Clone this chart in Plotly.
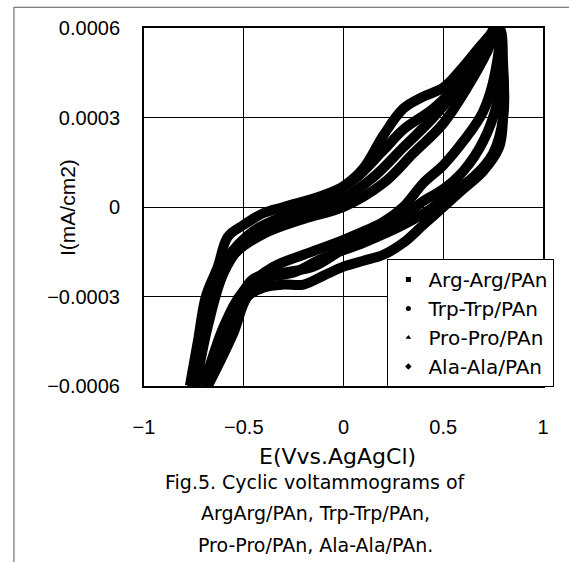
import plotly.graph_objects as go

# E (V vs Ag/AgCl) and I (mA/cm2), one closed CV loop per film
arg_E = [-0.77, -0.73, -0.69, -0.63, -0.58, -0.5, -0.4, -0.3, -0.1, 0.0, 0.1, 0.2, 0.3, 0.4, 0.5, 0.6, 0.7, 0.78,
         0.8, 0.8, 0.78, 0.7, 0.6, 0.5, 0.4, 0.3, 0.2, 0.1, 0.0, -0.1, -0.2, -0.3, -0.4, -0.48, -0.55, -0.62, -0.68]
arg_I = [-0.0006, -0.00045, -0.0003, -0.0002, -0.0001, -0.00006, -0.00002, 0.0, 0.00004, 0.00007, 0.00013, 0.00024, 0.00033, 0.00037, 0.0004, 0.00047, 0.00055, 0.0006,
         0.00048, 0.0003, 0.0002, 0.00012, 0.00006, 0.0, -0.00006, -0.00012, -0.00016, -0.00018, -0.0002, -0.00023, -0.00026, -0.00026, -0.00027, -0.0003, -0.00042, -0.00052, -0.0006]

trp_E = [-0.74, -0.68, -0.6, -0.5, -0.35, -0.2, 0.0, 0.15, 0.3, 0.45, 0.6, 0.72, 0.78,
         0.76, 0.7, 0.6, 0.5, 0.4, 0.3, 0.2, 0.0, -0.2, -0.35, -0.5, -0.6, -0.7]
trp_I = [-0.0006, -0.0004, -0.00022, -0.00012, -0.00006, -0.00002, 0.00003, 0.0001, 0.0002, 0.0003, 0.00042, 0.00055, 0.0006,
         0.00045, 0.00032, 0.00022, 0.00014, 0.00008, 0.0, -0.00005, -0.00011, -0.00016, -0.0002, -0.00028, -0.0004, -0.0006]

pro_E = [-0.75, -0.7, -0.64, -0.55, -0.4, -0.2, 0.0, 0.2, 0.35, 0.5, 0.62, 0.72, 0.77,
         0.79, 0.77, 0.7, 0.6, 0.5, 0.4, 0.3, 0.15, 0.0, -0.15, -0.3, -0.45, -0.55, -0.65, -0.7]
pro_I = [-0.0006, -0.00042, -0.00028, -0.00016, -0.00009, -0.00004, 0.0, 0.00008, 0.00018, 0.00028, 0.0004, 0.00052, 0.0006,
         0.0005, 0.00035, 0.00022, 0.00012, 0.00006, 0.00002, -0.00003, -0.00008, -0.00014, -0.0002, -0.00022, -0.00024, -0.00035, -0.0005, -0.0006]

ala_E = [-0.76, -0.71, -0.66, -0.58, -0.45, -0.3, -0.1, 0.05, 0.2, 0.3, 0.45, 0.6, 0.7, 0.76,
         0.8, 0.8, 0.75, 0.65, 0.5, 0.45, 0.3, 0.1, -0.1, -0.25, -0.4, -0.5, -0.6, -0.69]
ala_I = [-0.0006, -0.00043, -0.0003, -0.00017, -0.00008, -0.00003, 0.00003, 0.00009, 0.00019, 0.00026, 0.00033, 0.00043, 0.00052, 0.0006,
         0.00045, 0.0003, 0.00018, 0.0001, 0.00003, 0.0, -0.00006, -0.00012, -0.00017, -0.00022, -0.00024, -0.00029, -0.00042, -0.0006]

names = ["Arg-Arg/PAn", "Trp-Trp/PAn", "Pro-Pro/PAn", "Ala-Ala/PAn"]
symbols = ["square", "circle", "triangle-up", "diamond"]
series = [(arg_E, arg_I), (trp_E, trp_I), (pro_E, pro_I), (ala_E, ala_I)]

x_ticks = [-1, -0.5, 0, 0.5, 1]
x_tick_text = ["−1", "−0.5", "0", "0.5", "1"]
y_ticks = [-0.0006, -0.0003, 0, 0.0003, 0.0006]
y_tick_text = ["−0.0006", "−0.0003", "0", "0.0003", "0.0006"]

FONT = "Liberation Sans"
WIDE = "DejaVu Sans"

fig = go.Figure()
for (ex, iy), nm, sym in zip(series, names, symbols):
    fig.add_trace(go.Scatter(x=ex, y=iy, mode="lines", line=dict(color="black", width=10, shape="spline"),
                             showlegend=False, hoverinfo="skip"))
    fig.add_trace(go.Scatter(x=ex, y=iy, mode="markers", name=nm,
                             marker=dict(symbol=sym, size=5, color="black")))

fig.update_layout(
    width=569, height=562,
    margin=dict(l=144, r=26, t=28, b=176),
    paper_bgcolor="white", plot_bgcolor="white",
    font=dict(family=FONT, size=20, color="black"),
    legend=dict(x=0.61, y=-0.003, xanchor="left", yanchor="bottom",
                bgcolor="white", bordercolor="black", borderwidth=1,
                font=dict(size=20, family=WIDE), itemsizing="trace", tracegroupgap=0,
                itemwidth=30),
    xaxis=dict(range=[-1, 1], tickvals=x_ticks, ticktext=x_tick_text,
               showgrid=True, gridcolor="black", gridwidth=1, zeroline=False,
               showline=True, linecolor="black", linewidth=2, mirror=True,
               ticks="", ticklabelstandoff=22),
    yaxis=dict(range=[-0.0006, 0.0006], tickvals=y_ticks, ticktext=y_tick_text,
               showgrid=True, gridcolor="black", gridwidth=1, zeroline=False,
               showline=True, linecolor="black", linewidth=2, mirror=True,
               ticks="", ticklabelstandoff=18),
)

fig.add_annotation(text="I(mA/cm2)", xref="paper", yref="paper", x=-0.193, y=0.5, textangle=-90,
                   showarrow=False, xanchor="center", yanchor="middle", font=dict(size=21))
fig.add_annotation(text="E(Vvs.AgAgCl)", xref="paper", yref="paper", x=0.485, y=-0.198,
                   showarrow=False, xanchor="center", yanchor="middle", font=dict(size=22, family=WIDE))

caption = ["Fig.5. Cyclic voltammograms of", "ArgArg/PAn, Trp-Trp/PAn,", "Pro-Pro/PAn, Ala-Ala/PAn."]
for k, line in enumerate(caption):
    fig.add_annotation(text=line, xref="paper", yref="paper", x=0.43, y=-0.268 - k * 0.088,
                       showarrow=False, xanchor="center", yanchor="middle",
                       font=dict(size=19, family=WIDE))

fig.add_shape(type="rect", xref="paper", yref="paper", x0=-0.326, y0=-0.6, x1=1.1, y1=1.058,
              line=dict(color="#555", width=1))

fig.write_html("out.html")
